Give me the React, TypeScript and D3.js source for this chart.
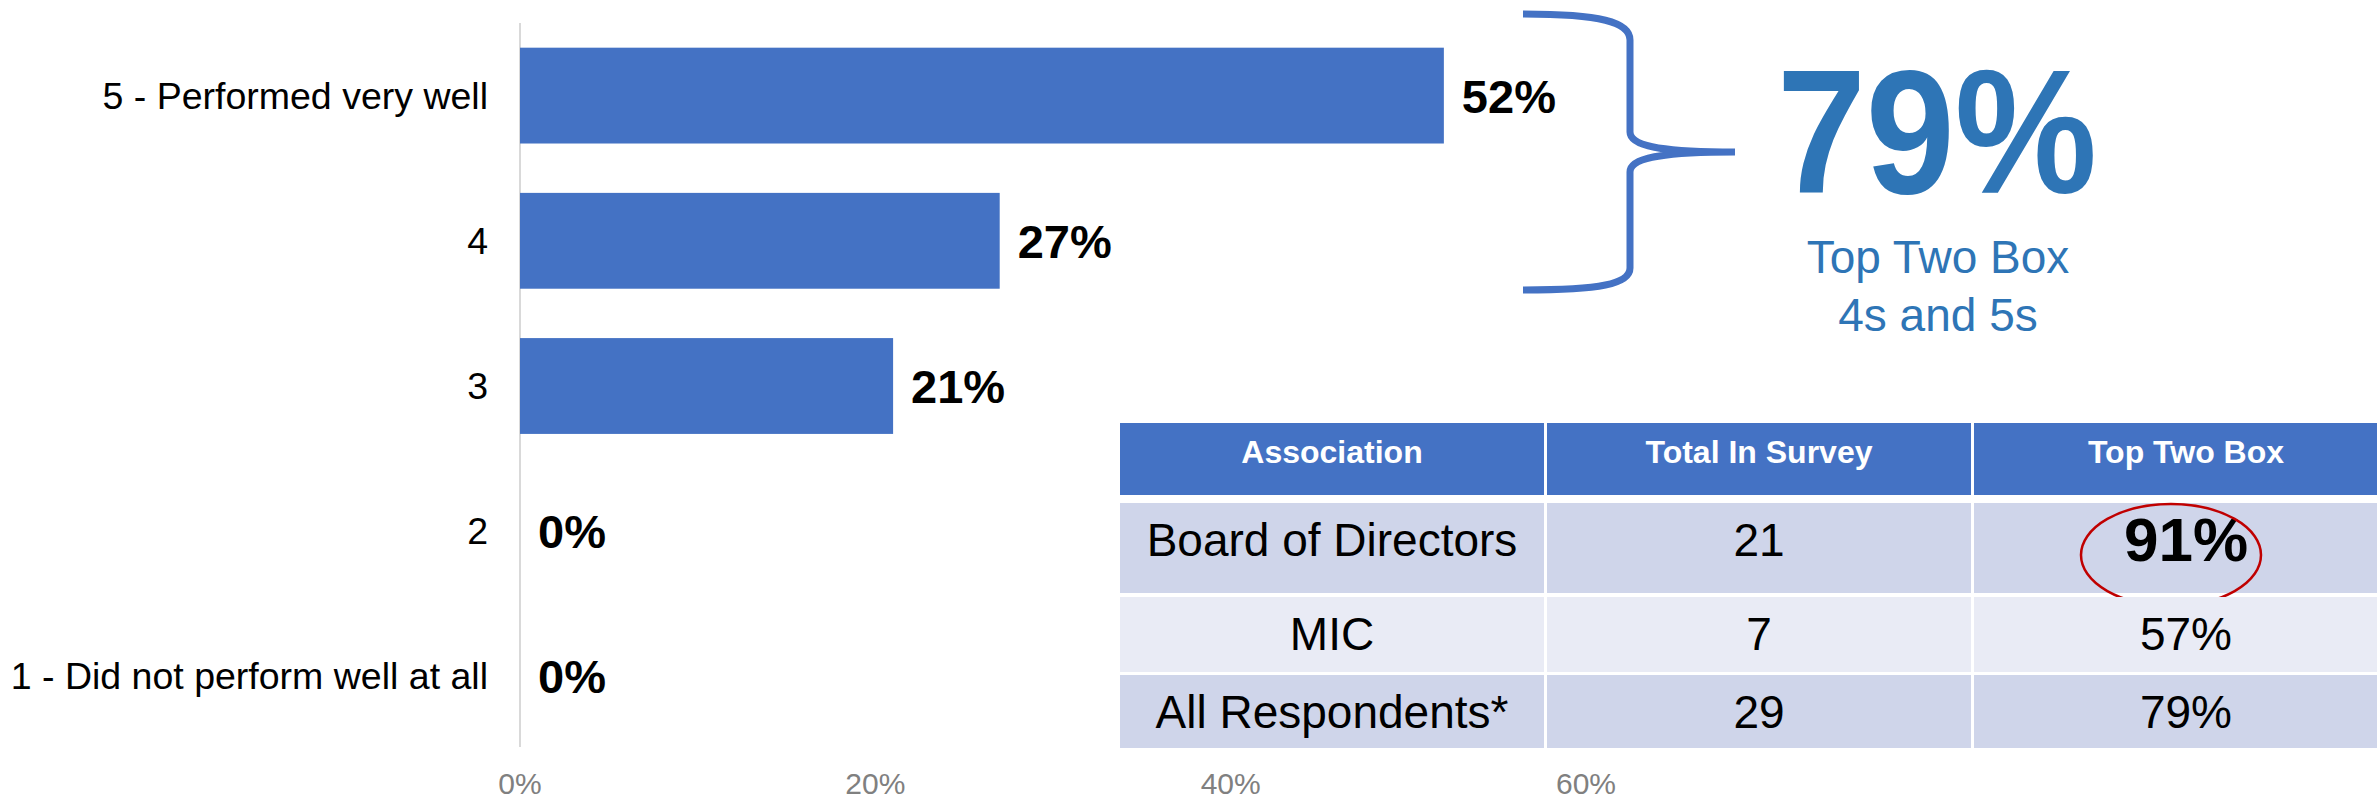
import React, { useEffect, useRef } from 'react';
import * as d3 from 'd3';

// bar chart data
const categories = ['5 - Performed very well', '4', '3', '2', '1 - Did not perform well at all'];
const shares = [0.52, 0.27, 0.21, 0, 0];
const xTicks = [0, 0.2, 0.4, 0.6];

// callout
const topTwoBox = 0.79;
const topTwoLines = ['Top Two Box', '4s and 5s'];

// table data
const tableHeader = ['Association', 'Total In Survey', 'Top Two Box'];
const tableGroups = ['Board of Directors', 'MIC', 'All Respondents*'];
const tableTotals = [21, 7, 29];
const tableTopTwo = [0.91, 0.57, 0.79];
const highlightRow = 0;

const W = 2377;
const H = 801;
const FONT = '"Liberation Sans", Arial, sans-serif';
const BLUE = '#4472C4';
const TEXT_BLUE = '#2E75B6';

const App = () => {
  const svgRef = useRef<SVGSVGElement>(null);

  useEffect(() => {
    const svg = d3.select(svgRef.current);
    svg.selectAll('*').remove();

    const pct = d3.format('.0%');

    // scales
    const x = d3.scaleLinear().domain([0, 0.6]).range([520, 1586]);
    const y = d3.scaleBand().domain(categories).range([23, 749])
      .paddingInner(0.34).paddingOuter(0.17);

    // axis line
    svg.append('line')
      .attr('x1', x(0)).attr('x2', x(0))
      .attr('y1', 23).attr('y2', 747)
      .attr('stroke', '#D9D9D9').attr('stroke-width', 2);

    // bars
    svg.selectAll('rect.bar')
      .data(categories)
      .enter()
      .append('rect')
      .attr('class', 'bar')
      .attr('x', x(0))
      .attr('y', d => y(d))
      .attr('width', (d, i) => x(shares[i]) - x(0))
      .attr('height', y.bandwidth())
      .attr('fill', BLUE);

    // category labels
    svg.selectAll('text.cat')
      .data(categories)
      .enter()
      .append('text')
      .attr('class', 'cat')
      .attr('x', x(0) - 32)
      .attr('y', d => y(d) + y.bandwidth() / 2 + 13)
      .attr('text-anchor', 'end')
      .style('font-family', FONT)
      .style('font-size', '37.5px')
      .style('fill', '#000')
      .text(d => d);

    // value labels
    svg.selectAll('text.val')
      .data(categories)
      .enter()
      .append('text')
      .attr('class', 'val')
      .attr('x', (d, i) => x(shares[i]) + 18)
      .attr('y', d => y(d) + y.bandwidth() / 2 + 17)
      .style('font-family', FONT)
      .style('font-size', '47px')
      .style('font-weight', 'bold')
      .style('fill', '#000')
      .text((d, i) => pct(shares[i]));

    // x tick labels
    svg.selectAll('text.tick')
      .data(xTicks)
      .enter()
      .append('text')
      .attr('class', 'tick')
      .attr('x', d => x(d))
      .attr('y', 794)
      .attr('text-anchor', 'middle')
      .style('font-family', FONT)
      .style('font-size', '30px')
      .style('fill', '#808080')
      .text(d => pct(d));

    // brace around top two bars
    const brace = d3.path();
    brace.moveTo(1523, 14);
    brace.bezierCurveTo(1600, 14, 1630, 22, 1630, 40);
    brace.lineTo(1630, 132);
    brace.bezierCurveTo(1630, 146, 1660, 152, 1735, 152);
    brace.moveTo(1735, 152);
    brace.bezierCurveTo(1660, 152, 1630, 158, 1630, 172);
    brace.lineTo(1630, 268);
    brace.bezierCurveTo(1630, 284, 1600, 290, 1523, 290);
    svg.append('path')
      .attr('d', brace.toString())
      .attr('fill', 'none')
      .attr('stroke', BLUE)
      .attr('stroke-width', 7);

    // callout
    svg.append('text')
      .attr('transform', 'translate(1937,193) scale(1,1.1)')
      .attr('text-anchor', 'middle')
      .style('font-family', FONT)
      .style('font-size', '160px')
      .style('font-weight', 'bold')
      .style('fill', TEXT_BLUE)
      .text(pct(topTwoBox));

    svg.selectAll('text.sub')
      .data(topTwoLines)
      .enter()
      .append('text')
      .attr('class', 'sub')
      .attr('x', 1938)
      .attr('y', (d, i) => 273 + i * 58)
      .attr('text-anchor', 'middle')
      .style('font-family', FONT)
      .style('font-size', '46px')
      .style('fill', TEXT_BLUE)
      .text(d => d);

    // table
    const col = d3.scaleBand().domain(tableHeader).range([1120, 2398]).paddingInner(0.007);
    const rowTops = [423, 503, 597, 675];
    const rowBottoms = [495, 593, 672, 748];
    const table = svg.append('g');

    tableHeader.forEach(h => {
      table.append('rect')
        .attr('x', col(h)).attr('y', rowTops[0])
        .attr('width', col.bandwidth()).attr('height', rowBottoms[0] - rowTops[0])
        .attr('fill', BLUE);
      table.append('text')
        .attr('x', col(h) + col.bandwidth() / 2)
        .attr('y', 463)
        .attr('text-anchor', 'middle')
        .style('font-family', FONT)
        .style('font-size', '32px')
        .style('font-weight', 'bold')
        .style('fill', '#fff')
        .text(h);
    });

    tableGroups.forEach((g, i) => {
      const top = rowTops[i + 1];
      const h = rowBottoms[i + 1] - top;
      const cy = top + Math.min(h / 2, 36);
      const cells = [g, String(tableTotals[i]), pct(tableTopTwo[i])];
      cells.forEach((c, j) => {
        table.append('rect')
          .attr('x', col(tableHeader[j])).attr('y', top)
          .attr('width', col.bandwidth()).attr('height', h)
          .attr('fill', i % 2 === 0 ? '#CFD5EA' : '#E9EBF5');
        const hi = i === highlightRow && j === 2;
        table.append('text')
          .attr('x', col(tableHeader[j]) + col.bandwidth() / 2)
          .attr('y', cy + (hi ? 22 : 16.5))
          .attr('text-anchor', 'middle')
          .style('font-family', FONT)
          .style('font-size', hi ? '62px' : '46px')
          .style('font-weight', hi ? 'bold' : 'normal')
          .style('fill', '#000')
          .text(c);
        if (hi) {
          table.append('ellipse')
            .attr('cx', col(tableHeader[j]) + col.bandwidth() / 2 - 15)
            .attr('cy', cy + 16)
            .attr('rx', 90).attr('ry', 51)
            .attr('fill', 'none')
            .attr('stroke', '#C00000')
            .attr('stroke-width', 2.5);
        }
      });
    });
  }, []);

  return (
    <svg
      ref={svgRef}
      width={W}
      height={H}
      viewBox={`0 0 ${W} ${H}`}
      style={{ position: 'absolute', left: 0, top: 0, background: '#fff' }}
    ></svg>
  );
};

export default App;
